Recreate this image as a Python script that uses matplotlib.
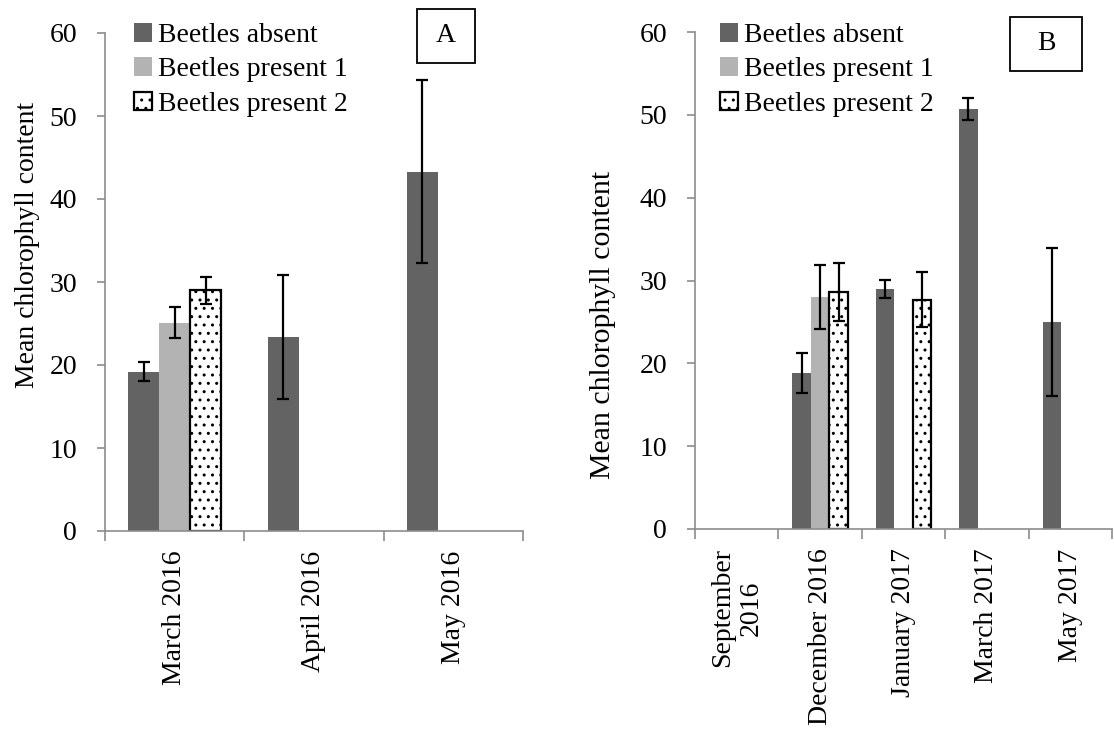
import numpy as np
import matplotlib
matplotlib.use("Agg")
import matplotlib.pyplot as plt
from matplotlib.patches import Rectangle

plt.rcParams.update({
    "font.family": "Liberation Serif", "font.size": 20,
    "hatch.linewidth": 1.0,
})
DARK = "#636363"; LIGHT = "#b3b3b3"; AXIS = "#8c8c8c"

series = ["Beetles absent", "Beetles present 1", "Beetles present 2"]

# Panel A: spring 2016
months_a = ["March 2016", "April 2016", "May 2016"]
absent_a = [19.2, 23.4, 43.3]
absent_a_err = [1.15, 7.5, 11.0]
present1_a = [25.1, np.nan, np.nan]
present1_a_err = [1.9, np.nan, np.nan]
present2_a = [29.0, np.nan, np.nan]
present2_a_err = [1.6, np.nan, np.nan]

# Panel B: Sept 2016 - May 2017
months_b = ["September\n2016", "December 2016", "January 2017", "March 2017", "May 2017"]
absent_b = [np.nan, 18.8, 29.0, 50.7, 25.0]
absent_b_err = [np.nan, 2.4, 1.1, 1.3, 8.9]
present1_b = [np.nan, 28.0, np.nan, np.nan, np.nan]
present1_b_err = [np.nan, 3.9, np.nan, np.nan, np.nan]
present2_b = [np.nan, 28.6, 27.7, np.nan, np.nan]
present2_b_err = [np.nan, 3.5, 3.3, np.nan, np.nan]

fig = plt.figure(figsize=(11.14, 7.35), dpi=100)
ax_a = fig.add_axes([105/1114, 1 - 531/735, 418/1114, 498/735])
ax_b = fig.add_axes([695/1114, 1 - 529/735, 417/1114, 497/735])


def draw_panel(ax, months, vals, errs, label_size):
    n = len(months)
    x = np.arange(n)
    w = 1 / 4.5
    styles = [dict(color=DARK), dict(color=LIGHT),
              dict(facecolor="white", edgecolor="black", hatch="..", linewidth=1.6)]
    handles = []
    for k, (v, e, st) in enumerate(zip(vals, errs, styles)):
        xs = x + (k - 1) * w
        bars = ax.bar(xs, v, width=w, label=series[k], zorder=2, **st)
        handles.append(bars)
        v = np.asarray(v, float); e = np.asarray(e, float)
        ok = ~np.isnan(v) & ~np.isnan(e)
        ax.errorbar(xs[ok], v[ok], yerr=e[ok], fmt="none", ecolor="black",
                    elinewidth=1.6, capsize=4.5, capthick=1.6, zorder=3)
    ax.set_xlim(-0.5, n - 0.5)
    ax.set_ylim(0, 60)
    ax.set_yticks(range(0, 61, 10))
    ax.set_xticks(x)
    ax.set_xticklabels(months, rotation=90, ha="center", va="top",
                       multialignment="center")
    ax.set_xticks(np.arange(n + 1) - 0.5, minor=True)
    ax.tick_params(axis="x", which="major", length=0, pad=14)
    ax.tick_params(axis="x", which="minor", length=7, color=AXIS, width=1.2)
    ax.tick_params(axis="y", length=6, color=AXIS, width=1.2, pad=14)
    for s in ("top", "right"):
        ax.spines[s].set_visible(False)
    for s in ("left", "bottom"):
        ax.spines[s].set_color(AXIS)
        ax.spines[s].set_linewidth(1.2)
    ax.set_ylabel("Mean chlorophyll content", fontsize=label_size)
    return handles


h_a = draw_panel(ax_a, months_a, [absent_a, present1_a, present2_a],
                 [absent_a_err, present1_a_err, present2_a_err], 20)
h_b = draw_panel(ax_b, months_b, [absent_b, present1_b, present2_b],
                 [absent_b_err, present1_b_err, present2_b_err], 21.5)
ax_a.yaxis.set_label_coords(-0.155, 0.575)
ax_b.yaxis.set_label_coords(-0.19, 0.41)

for ax, handles, x0 in ((ax_a, h_a, 134), (ax_b, h_b, 720)):
    fig.legend(handles, series, loc="upper left",
               bbox_to_anchor=(x0/1114, 1 - 23/735), frameon=False,
               borderpad=0, borderaxespad=0, handlelength=0.65,
               handleheight=0.65, handletextpad=0.2, labelspacing=0.34)

# panel letters in boxes
for lab, (x0, y0, x1, y1) in (("A", (417, 9, 475, 63)), ("B", (1010, 17, 1082, 71))):
    fig.add_artist(Rectangle((x0/1114, 1 - y1/735), (x1 - x0)/1114, (y1 - y0)/735,
                             transform=fig.transFigure, fill=False,
                             edgecolor="black", linewidth=1.3))
    fig.text((x0 + x1)/2/1114, 1 - (y0 + y1)/2/735, lab, ha="center", va="center")

fig.savefig("out.png", dpi=100)
